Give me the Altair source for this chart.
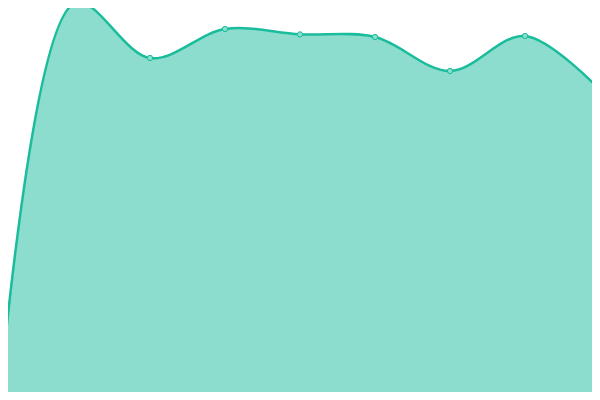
import altair as alt
import pandas as pd

# Category positions (index) and series values (0-100 scale)
idx = [0, 1, 2, 3, 4, 5, 6, 7, 8]
values = [0.5, 99.25, 85.5, 92.75, 91.4, 90.75, 82.25, 91.0, 77.5]

df = pd.DataFrame({"i": idx, "v": values})

# domains chosen so the plot area lines up with the reference frame despite the 8px page margin
x_scale = alt.Scale(domain=[8 / 75, 592 / 75], nice=False, zero=False)
y_scale = alt.Scale(domain=[2, 98], nice=False, zero=False)

base = alt.Chart(df).encode(
    x=alt.X("i:Q", scale=x_scale, axis=None),
    y=alt.Y("v:Q", scale=y_scale, axis=None),
)

area = base.mark_area(
    interpolate="catmull-rom",
    color="#1abc9c",
    opacity=0.5,
    clip=True,
)
line = base.mark_line(
    interpolate="catmull-rom",
    color="#1abc9c",
    strokeWidth=2.5,
    clip=True,
)
pts = base.mark_point(
    filled=True,
    size=28,
    fill="#88dfcf",
    stroke="#1abc9c",
    strokeWidth=1,
    opacity=1,
    clip=True,
)

chart = (
    alt.layer(area, line, pts)
    .properties(width=584, height=384, padding=0, background="white")
    .configure_view(stroke=None)
)

chart.save("out.html", embed_options={"renderer": "svg", "actions": False})
